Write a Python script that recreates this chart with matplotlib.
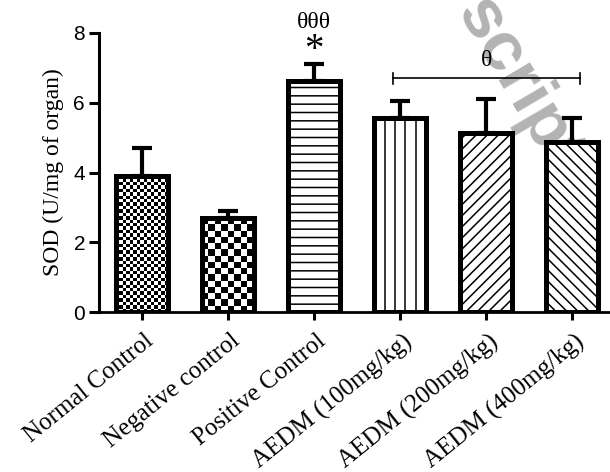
import numpy as np
import matplotlib
matplotlib.use("Agg")
import matplotlib.pyplot as plt
from matplotlib.transforms import ScaledTranslation

# ---- data ----
categories = ["Normal Control", "Negative control", "Positive Control",
              "AEDM (100mg/kg)", "AEDM (200mg/kg)", "AEDM (400mg/kg)"]
means = [3.90, 2.69, 6.62, 5.56, 5.13, 4.87]
errors = [0.80, 0.21, 0.48, 0.49, 0.97, 0.69]
yticks = [0, 2, 4, 6, 8]

plt.rcParams['hatch.linewidth'] = 1.1
SERIF = ['Liberation Serif', 'DejaVu Serif']
SANS = ['Liberation Sans', 'DejaVu Sans']

W, H = 610, 472
fig = plt.figure(figsize=(W / 100, H / 100), dpi=100)
ax = fig.add_axes([99 / W, 1 - 312 / H, 1 - 99 / W, (312 - 33) / H])
ax.patch.set_alpha(0)

x = np.arange(len(categories))
bw = 0.6
xlim = (-0.5, 5.44)
ax.set_xlim(*xlim)
ax.set_ylim(0, 8)

# watermark (visible part), behind the axes
fig.text(456 / W, 1 - 12 / H, "script", rotation=-59.6, rotation_mode='anchor',
         ha='left', va='baseline', fontsize=50, fontweight='bold',
         family=SANS, color='#b3b3b3', zorder=-1)

hatches = [None, None, '--', None, '///', '\\\\\\']
fills = ax.bar(x, means, width=bw, color='white', edgecolor='black',
               linewidth=0, zorder=1)
for b, h in zip(fills, hatches):
    if h:
        b.set_hatch(h)

# pixel scales for textures
ax_w_px = W - 99
ax_h_px = 312 - 33
px_x = ax_w_px / (xlim[1] - xlim[0])
px_y = ax_h_px / 8.0

# checker textures for the first two bars
cells = [3.4, 6.4]
for i, cell in enumerate(cells):
    v = means[i]
    cols = max(1, int(round(bw * px_x / cell)))
    rows = max(1, int(round(v * px_y / cell)))
    arr = np.indices((rows, cols)).sum(axis=0) % 2
    im = ax.imshow(arr, cmap='gray', extent=(x[i] - bw / 2, x[i] + bw / 2, 0, v),
                   interpolation='nearest', aspect='auto', origin='lower',
                   zorder=1.5)
    im.set_clip_path(fills[i])

# vertical lines for bar 4
i4 = 3
vx = [x[i4] - bw / 2 + k * bw / 5 for k in range(1, 5)]
ax.vlines(vx, 0, means[i4], colors='black', linewidth=1.1, zorder=1.6)

ax.set_xlim(*xlim)
ax.set_ylim(0, 8)

# error bars (upper only)
ax.errorbar(x, means, yerr=[np.zeros(len(means)), errors], fmt='none',
            ecolor='black', elinewidth=3.0, capsize=7.5, capthick=3.0, zorder=2)

# outlines
ax.bar(x, means, width=bw, facecolor='none', edgecolor='black',
       linewidth=3.6, zorder=3)

# significance marks
ax.text(x[2], 8.3, "θθθ", ha='center', va='center', fontsize=17,
        family=SERIF, clip_on=False)
ax.text(x[2], 7.5, "*", ha='center', va='center', fontsize=28,
        family=SERIF, clip_on=False)
bx0, bx1, by = 2.92, 5.09, 6.7
ax.plot([bx0, bx1], [by, by], color='black', lw=1.2, zorder=4)
ax.plot([bx0, bx0], [by - 0.16, by + 0.16], color='black', lw=1.2, zorder=4)
ax.plot([bx1, bx1], [by - 0.16, by + 0.16], color='black', lw=1.2, zorder=4)
ax.text(4.0, 7.2, "θ", ha='center', va='center', fontsize=17, family=SERIF)

# axes styling
for s in ['top', 'right']:
    ax.spines[s].set_visible(False)
ax.spines['left'].set_linewidth(2.2)
ax.spines['bottom'].set_linewidth(2.0)
ax.set_yticks(yticks)
ax.set_yticklabels([str(t) for t in yticks], family=SANS, fontsize=15)
ax.tick_params(axis='y', length=7, width=2.2, pad=3)
ax.set_xticks(x)
ax.set_xticklabels(categories, family=SERIF, fontsize=18, rotation=39,
                   ha='right', rotation_mode='anchor')
ax.tick_params(axis='x', length=6, width=2.2, pad=4)
offset = ScaledTranslation(2 / 100, -4 / 100, fig.dpi_scale_trans)
for lab in ax.get_xticklabels():
    lab.set_transform(lab.get_transform() + offset)

ax.set_ylabel("SOD (U/mg of organ)", family=SERIF, fontsize=17, labelpad=7)

fig.savefig("out.png", dpi=100)
